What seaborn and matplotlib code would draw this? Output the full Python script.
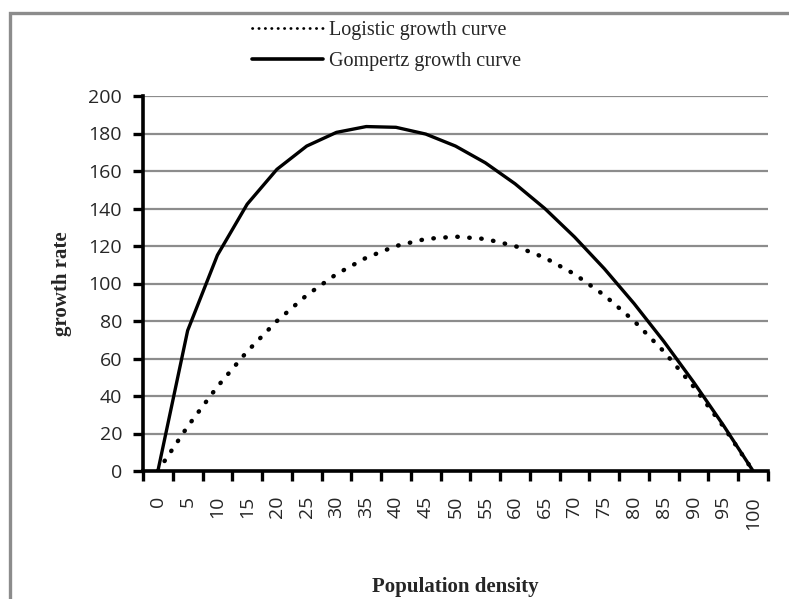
import numpy as np
import pandas as pd
import matplotlib
matplotlib.use("Agg")
import matplotlib.pyplot as plt
import seaborn as sns
from matplotlib.patches import Rectangle
from matplotlib.lines import Line2D

density = [0, 5, 10, 15, 20, 25, 30, 35, 40, 45, 50, 55, 60, 65, 70, 75, 80, 85, 90, 95, 100]
logistic = [0, 23.75, 45, 63.75, 80, 93.75, 105, 113.75, 120, 123.75, 125,
            123.75, 120, 113.75, 105, 93.75, 80, 63.75, 45, 23.75, 0]
gompertz = [0, 74.9, 115.1, 142.3, 160.9, 173.3, 180.6, 183.7, 183.3, 179.7, 173.3,
            164.4, 153.2, 140.0, 124.8, 107.9, 89.3, 69.1, 47.4, 24.4, 0]
y_ticks = [0, 20, 40, 60, 80, 100, 120, 140, 160, 180, 200]

sns.set_style("white")
plt.rcParams['font.family'] = ['Liberation Serif', 'DejaVu Serif']

df = pd.DataFrame({
    "idx": list(range(len(density))) * 2,
    "value": logistic + gompertz,
    "series": ["Logistic growth curve"] * len(density) + ["Gompertz growth curve"] * len(density),
})

fig = plt.figure(figsize=(7.89, 5.99), dpi=100)
ax = fig.add_axes([143 / 789, 1 - 471 / 599, (768 - 143) / 789, (471 - 96) / 599])

sub_l = df[df.series == "Logistic growth curve"]
sub_g = df[df.series == "Gompertz growth curve"]
sns.lineplot(data=sub_g, x="idx", y="value", ax=ax, color="black", lw=2.4, legend=False, zorder=4)
sns.lineplot(data=sub_l, x="idx", y="value", ax=ax, color="black", lw=3.2, legend=False, zorder=3)
ax.lines[-1].set_linestyle((0, (0.1, 2.6)))
ax.lines[-1].set_dash_capstyle("round")

ax.set_xlim(-0.5, len(density) - 0.5)
ax.set_ylim(0, 200)
ax.set_yticks(y_ticks)
ax.set_yticklabels([str(v) for v in y_ticks], fontfamily="Open Sans", fontsize=14)
ax.set_xticks(np.arange(-0.5, len(density), 1.0))
ax.set_xticklabels([])
ax.set_xticks(np.arange(len(density)), minor=True)
ax.set_xticklabels([str(v) for v in density], minor=True, rotation=90,
                   fontfamily="Open Sans", fontsize=14)
ax.tick_params(axis="x", which="major", bottom=True, direction="out", length=7,
               width=2.4, color="black")
ax.tick_params(axis="x", which="minor", bottom=True, length=0, pad=18)
ax.tick_params(axis="y", left=True, direction="out", length=7, width=2.4,
               color="black", pad=8)

ax.grid(axis="y", color="#8c8c8c", lw=1.6)
ax.set_axisbelow(True)
for s in ["top", "right"]:
    ax.spines[s].set_visible(False)
for s in ["left", "bottom"]:
    ax.spines[s].set_color("black")
    ax.spines[s].set_linewidth(2.6)

ax.set_xlabel("")
ax.set_ylabel("")
fig.text(455 / 789, 1 - 587 / 599, "Population density", ha="center", va="center",
         fontsize=15, fontweight="bold")
fig.text(62 / 789, 1 - 284 / 599, "growth rate", ha="center", va="center",
         rotation=90, fontsize=15, fontweight="bold")

handles = [
    Line2D([], [], color="black", lw=2.0, linestyle=(0, (0.1, 2.2)), dash_capstyle="round"),
    Line2D([], [], color="black", lw=2.6),
]
fig.legend(handles, ["Logistic growth curve", "Gompertz growth curve"],
           loc="upper left", bbox_to_anchor=(244 / 789, 1 - 13 / 599),
           frameon=False, fontsize=14.5, handlelength=3.5, handletextpad=0.3,
           labelspacing=0.6, borderaxespad=0)

fig.patches.append(Rectangle((10 / 789, -0.1), 1.2, 1 - 12.5 / 599 + 0.1,
                             transform=fig.transFigure, fill=False,
                             edgecolor="#8c8c8c", lw=2.4, figure=fig))

fig.savefig("out.png", dpi=100)
